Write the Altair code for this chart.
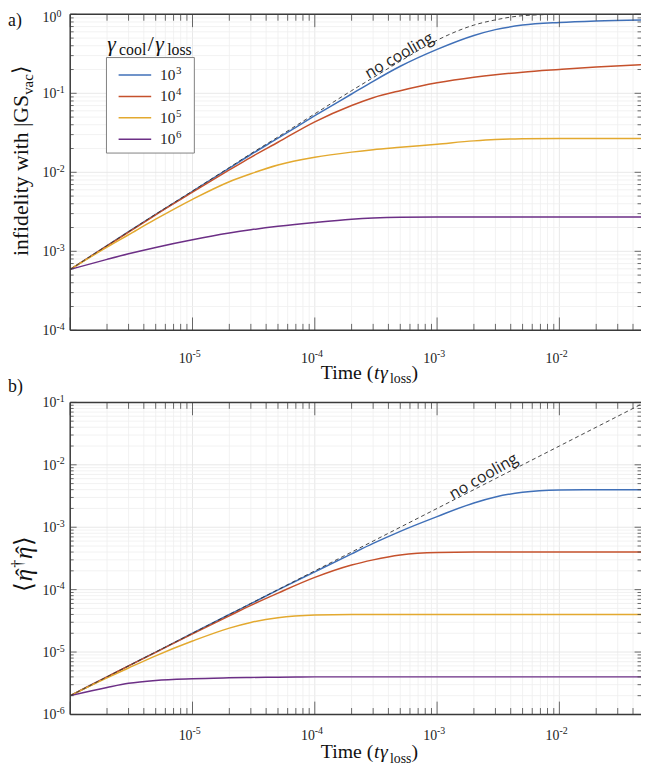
import altair as alt
import pandas as pd

# ---------------- data ----------------
times = [1e-6, 2e-6, 3e-6, 5e-6, 1e-5, 2e-5, 3e-5, 5e-5, 1e-4, 2e-4, 3e-4, 5e-4,
         1e-3, 2e-3, 3e-3, 5e-3, 1e-2, 2e-2, 5e-2]

series_labels = ["10³", "10⁴", "10⁵", "10⁶"]
legend_exp = ["3", "4", "5", "6"]
series_colors = ["#4070b8", "#c5512c", "#e3a92f", "#6c2f86"]

# panel a) infidelity with |GS_vac>
infid_nocool = [5.9e-4, 1.18e-3, 1.77e-3, 2.95e-3, 5.8e-3, 1.15e-2, 1.72e-2, 2.8e-2, 5.5e-2,
                0.108, 0.158, 0.255, 0.47, 0.73, 0.85, 0.96, 0.998, 1.0, 1.0]
infid_1e3 = [5.9e-4, 1.18e-3, 1.77e-3, 2.93e-3, 5.75e-3, 1.13e-2, 1.68e-2, 2.7e-2, 5.2e-2,
             0.098, 0.142, 0.22, 0.36, 0.54, 0.64, 0.73, 0.79, 0.825, 0.85]
infid_1e4 = [5.9e-4, 1.17e-3, 1.75e-3, 2.9e-3, 5.6e-3, 1.07e-2, 1.55e-2, 2.4e-2, 4.35e-2,
             0.070, 0.088, 0.108, 0.136, 0.16, 0.172, 0.185, 0.20, 0.215, 0.232]
infid_1e5 = [5.9e-4, 1.13e-3, 1.62e-3, 2.55e-3, 4.55e-3, 7.6e-3, 9.6e-3, 1.24e-2, 1.55e-2,
             1.8e-2, 1.93e-2, 2.07e-2, 2.27e-2, 2.5e-2, 2.6e-2, 2.66e-2, 2.68e-2, 2.68e-2, 2.68e-2]
infid_1e6 = [5.9e-4, 7.9e-4, 9.3e-4, 1.12e-3, 1.4e-3, 1.7e-3, 1.87e-3, 2.07e-3, 2.32e-3,
             2.55e-3, 2.64e-3, 2.7e-3, 2.72e-3, 2.72e-3, 2.72e-3, 2.72e-3, 2.72e-3, 2.72e-3, 2.72e-3]

# panel b) <eta^dagger eta>
n_nocool = [2e-6, 4e-6, 6e-6, 1e-5, 2e-5, 4e-5, 6e-5, 1e-4, 2e-4, 4e-4, 6e-4, 1e-3,
            2e-3, 4e-3, 6e-3, 1e-2, 2e-2, 4e-2, 1e-1]
n_1e3 = [2e-6, 4e-6, 6e-6, 1e-5, 2e-5, 4e-5, 5.95e-5, 9.9e-5, 1.93e-4, 3.75e-4, 5.5e-4, 8.6e-4,
         1.48e-3, 2.45e-3, 3.05e-3, 3.63e-3, 3.95e-3, 4.0e-3, 4.0e-3]
n_1e4 = [2e-6, 4e-6, 6e-6, 9.9e-6, 1.96e-5, 3.8e-5, 5.6e-5, 8.8e-5, 1.57e-4, 2.48e-4, 3.0e-4, 3.6e-4,
         3.95e-4, 4.0e-4, 4.0e-4, 4.0e-4, 4.0e-4, 4.0e-4, 4.0e-4]
n_1e5 = [2e-6, 3.85e-6, 5.55e-6, 8.7e-6, 1.5e-5, 2.42e-5, 2.98e-5, 3.55e-5, 3.92e-5, 4.0e-5, 4.0e-5, 4.0e-5,
         4.0e-5, 4.0e-5, 4.0e-5, 4.0e-5, 4.0e-5, 4.0e-5, 4.0e-5]
n_1e6 = [2e-6, 2.7e-6, 3.15e-6, 3.5e-6, 3.73e-6, 3.86e-6, 3.92e-6, 3.96e-6, 4.0e-6, 4.0e-6, 4.0e-6, 4.0e-6,
         4.0e-6, 4.0e-6, 4.0e-6, 4.0e-6, 4.0e-6, 4.0e-6, 4.0e-6]

# axis ticks / labels
x_label_vals = [1e-5, 1e-4, 1e-3, 1e-2]
x_label_exp = ["-5", "-4", "-3", "-2"]
ya_label_vals = [1, 1e-1, 1e-2, 1e-3, 1e-4]
ya_label_exp = ["0", "-1", "-2", "-3", "-4"]
yb_label_vals = [1e-1, 1e-2, 1e-3, 1e-4, 1e-5, 1e-6]
yb_label_exp = ["-1", "-2", "-3", "-4", "-5", "-6"]

# "no cooling" annotation anchors (data coordinates)
note_a = {"t": [4.9e-4], "v": [0.30]}
note_b = {"t": [2.4e-3], "v": [6.5e-3]}

# ---------------- layout ----------------
W = 578
XMAX = 0.0465
TOP0, TOP1 = 0, 320
BOT0, BOT1 = 393, 709
SERIF = "Liberation Serif"
FRAME = "#3a3a3a"
TICK = "#444444"

x_scale = alt.Scale(type="log", domain=[1e-6, XMAX], nice=False)
a_scale = alt.Scale(type="log", domain=[1e-4, 1], range=[TOP1, TOP0], nice=False)
b_scale = alt.Scale(type="log", domain=[1e-6, 1e-1], range=[BOT1, BOT0], nice=False)
color_scale = alt.Scale(domain=series_labels, range=series_colors)

ONE = pd.DataFrame({"_": [0]})


def X(field="t"):
    return alt.X(f"{field}:Q", scale=x_scale, axis=None)


def Ya(field="v"):
    return alt.Y(f"{field}:Q", scale=a_scale, axis=None)


def Yb(field="v"):
    return alt.Y(f"{field}:Q", scale=b_scale, axis=None)


def decades(lo, hi):
    majors, minors = [], []
    for e in range(lo, hi + 1):
        base = 10.0 ** e
        majors.append(base)
        for k in range(2, 10):
            minors.append(k * base)
    return majors, minors


layers = []

# ---- grid ----
xmaj, xmin = decades(-6, -2)
xmin = [v for v in xmin if v <= XMAX]
ya_maj, ya_min = decades(-4, 0)
ya_min = [v for v in ya_min if v < 1]
yb_maj, yb_min = decades(-6, -1)
yb_min = [v for v in yb_min if v < 0.1]

GMAJ, GMIN = "#e2e2e2", "#efefef"
for (y0, y1) in [(TOP0, TOP1), (BOT0, BOT1)]:
    for vals, col in [(xmin, GMIN), (xmaj, GMAJ)]:
        layers.append(alt.Chart(pd.DataFrame({"t": vals})).mark_rule(color=col, strokeWidth=0.8)
                      .encode(x=X(), y=alt.value(y0), y2=alt.value(y1)))
for Yf, mn, mj in [(Ya, ya_min, ya_maj), (Yb, yb_min, yb_maj)]:
    for vals, col in [(mn, GMIN), (mj, GMAJ)]:
        layers.append(alt.Chart(pd.DataFrame({"v": vals})).mark_rule(color=col, strokeWidth=0.8)
                      .encode(y=Yf(), x=alt.value(0), x2=alt.value(W)))

# ---- curves ----
def long(series_list):
    rows = []
    for lab, vals in zip(series_labels, series_list):
        for t, v in zip(times, vals):
            rows.append({"t": t, "v": v, "series": lab})
    return pd.DataFrame(rows)


df_a = long([infid_1e3, infid_1e4, infid_1e5, infid_1e6])
df_b = long([n_1e3, n_1e4, n_1e5, n_1e6])

for df, Yf in [(df_a, Ya), (df_b, Yb)]:
    layers.append(alt.Chart(df).mark_line(clip=True, strokeWidth=1.5, interpolate="monotone")
                  .encode(x=X(), y=Yf(),
                          color=alt.Color("series:N", scale=color_scale, legend=None),
                          detail="series:N"))

dash_a = pd.DataFrame({"t": times, "v": infid_nocool})
dash_b = pd.DataFrame({"t": times, "v": n_nocool})
for df, Yf in [(dash_a, Ya), (dash_b, Yb)]:
    layers.append(alt.Chart(df).mark_line(clip=True, color="#333", strokeWidth=0.9,
                                          strokeDash=[4, 3], interpolate="monotone")
                  .encode(x=X(), y=Yf()))

# ---- "no cooling" notes ----
for note, Yf in [(note_a, Ya), (note_b, Yb)]:
    layers.append(alt.Chart(pd.DataFrame(note)).mark_text(
        text="no cooling", font="Open Sans", fontSize=16, color="#222", angle=330,
        align="center", baseline="middle").encode(x=X(), y=Yf()))

# ---- ticks (inward, all four sides) ----
XT_MAJ, XT_MIN = 13, 6.5
YT_MAJ, YT_MIN = 6.5, 3.5
for (y0, y1) in [(TOP0, TOP1), (BOT0, BOT1)]:
    for vals, ln in [(xmin, XT_MIN), (xmaj, XT_MAJ)]:
        d = pd.DataFrame({"t": vals})
        layers.append(alt.Chart(d).mark_rule(color=TICK, strokeWidth=0.8)
                      .encode(x=X(), y=alt.value(y1), y2=alt.value(y1 - ln)))
        layers.append(alt.Chart(d).mark_rule(color=TICK, strokeWidth=0.8)
                      .encode(x=X(), y=alt.value(y0), y2=alt.value(y0 + ln)))
for Yf, mn, mj in [(Ya, ya_min, ya_maj), (Yb, yb_min, yb_maj)]:
    for vals, ln in [(mn, YT_MIN), (mj, YT_MAJ)]:
        d = pd.DataFrame({"v": vals})
        layers.append(alt.Chart(d).mark_rule(color=TICK, strokeWidth=0.8)
                      .encode(y=Yf(), x=alt.value(0), x2=alt.value(ln)))
        layers.append(alt.Chart(d).mark_rule(color=TICK, strokeWidth=0.8)
                      .encode(y=Yf(), x=alt.value(W - ln), x2=alt.value(W)))

# ---- frame ----
for (y0, y1) in [(TOP0, TOP1), (BOT0, BOT1)]:
    layers.append(alt.Chart(ONE).mark_rule(color=FRAME, strokeWidth=1.5)
                  .encode(x=alt.value(0), y=alt.value(y0), y2=alt.value(y1)))
    layers.append(alt.Chart(ONE).mark_rule(color=FRAME, strokeWidth=1.5)
                  .encode(x=alt.value(0), x2=alt.value(W), y=alt.value(y0)))
    layers.append(alt.Chart(ONE).mark_rule(color=FRAME, strokeWidth=1.5)
                  .encode(x=alt.value(0), x2=alt.value(W), y=alt.value(y1)))

# ---- tick labels: "10" + superscript exponent ----
LBL, SUP = 14, 10
for y_base in [TOP1 + 33.6, BOT1 + 26]:
    d = pd.DataFrame({"t": x_label_vals, "e": x_label_exp})
    layers.append(alt.Chart(d).mark_text(text="10", font=SERIF, fontSize=LBL, color="#222",
                                         align="right", baseline="alphabetic")
                  .encode(x=X(), y=alt.value(y_base)))
    layers.append(alt.Chart(d).mark_text(font=SERIF, fontSize=SUP, color="#222",
                                         align="left", baseline="alphabetic")
                  .encode(x=X(), y=alt.value(y_base - 6.5), text="e:N"))

for Yf, vals, exps in [(Ya, ya_label_vals, ya_label_exp), (Yb, yb_label_vals, yb_label_exp)]:
    d = pd.DataFrame({"v": vals, "e": exps})
    dys = [8 if v == 1 else 5 for v in vals]
    d["dy"] = dys
    for dy in sorted(set(dys)):
        dd = d[d["dy"] == dy]
        layers.append(alt.Chart(dd).mark_text(text="10", font=SERIF, fontSize=LBL, color="#222",
                                              align="left", baseline="alphabetic", dy=dy)
                      .encode(x=alt.value(-28), y=Yf()))
        layers.append(alt.Chart(dd).mark_text(font=SERIF, fontSize=SUP, color="#222",
                                              align="left", baseline="alphabetic", dy=dy - 5.5)
                      .encode(x=alt.value(-14), y=Yf(), text="e:N"))

# ---- legend (boxed, inside panel a) ----
leg_df = pd.DataFrame({"series": series_labels, "e": legend_exp})
leg_y = alt.Y("series:N", axis=None,
              scale=alt.Scale(type="point", domain=series_labels, range=[61.5, 126.5], padding=0))
layers.append(alt.Chart(ONE).mark_rect(fill="white", stroke="#808080", strokeWidth=1)
              .encode(x=alt.value(36.7), x2=alt.value(125.7), y=alt.value(43.8), y2=alt.value(140.5)))
layers.append(alt.Chart(leg_df).mark_rule(strokeWidth=1.5)
              .encode(x=alt.value(49), x2=alt.value(82), y=leg_y,
                      color=alt.Color("series:N", scale=color_scale, legend=None)))
layers.append(alt.Chart(leg_df).mark_text(text="10", font=SERIF, fontSize=15.5, color="#222",
                                          align="left", baseline="alphabetic", dy=5)
              .encode(x=alt.value(91), y=leg_y))
layers.append(alt.Chart(leg_df).mark_text(font=SERIF, fontSize=11, color="#222",
                                          align="left", baseline="alphabetic", dy=-1)
              .encode(x=alt.value(107), y=leg_y, text="e:N"))

# ---- rich text helper (titles with sub/superscripts) ----
WID = {" ": 0.25, "(": 0.333, ")": 0.333, "/": 0.278, "|": 0.2, "T": 0.611, "G": 0.722,
       "S": 0.556, "a": 0.444, "c": 0.444, "d": 0.5, "e": 0.444, "f": 0.333, "h": 0.5,
       "i": 0.278, "l": 0.278, "m": 0.778, "n": 0.5, "o": 0.5, "s": 0.389, "t": 0.278,
       "v": 0.5, "w": 0.722, "y": 0.5, "γ": 0.5, "⟩": 0.39, "⟨": 0.39, "η": 0.5,
       "†": 0.5, "ˆ": 0.333}


def text_w(s, size):
    return sum(WID.get(c, 0.5) for c in s) * size


def txt(s, x, y, size, italic=False, angle=0, align="left", baseline="alphabetic",
        font=SERIF, color="#111"):
    kw = dict(text=s, font=font, fontSize=size, align=align, baseline=baseline, color=color)
    if italic:
        kw["fontStyle"] = "italic"
    if angle:
        kw["angle"] = angle
    return alt.Chart(ONE).mark_text(**kw).encode(x=alt.value(x), y=alt.value(y))


def rich(pieces, x, y, angle=0, anchor="start"):
    """pieces: dicts with s, size, italic, shift (baseline shift, + = down),
    gap (extra advance), at (extra offset, no advance), adv (False = overlay)."""
    total = sum(text_w(p["s"], p["size"]) + p.get("gap", 0)
                for p in pieces if p.get("adv", True))
    pos = -total / 2 if anchor == "middle" else 0
    out = []
    for p in pieces:
        along = pos + p.get("at", 0)
        shift = p.get("shift", 0)
        if angle == 0:
            out.append(txt(p["s"], x + along, y + shift, p["size"], p.get("italic", False)))
        else:  # 270: reading upward
            out.append(txt(p["s"], x + shift, y - along, p["size"], p.get("italic", False), angle=270))
        if p.get("adv", True):
            pos += text_w(p["s"], p["size"]) + p.get("gap", 0)
    return out


# x axis titles: Time (t gamma_loss)
xt = [dict(s="Time (", size=20), dict(s="t", size=20, italic=True, gap=0.5),
      dict(s="γ", size=20, italic=True), dict(s="loss", size=14, shift=4.5),
      dict(s=")", size=20)]
layers += rich(xt, 303, TOP1 + 49, anchor="middle")
layers += rich(xt, 303, BOT1 + 44.5, anchor="middle")

# y title a): infidelity with |GS_vac>
yta = [dict(s="infidelity with |GS", size=22), dict(s="vac", size=15, shift=5),
       dict(s="⟩", size=22)]
layers += rich(yta, -43, 148.5, angle=270, anchor="middle")

# y title b): <eta-hat^dagger eta-hat>
ytb = [dict(s="⟨", size=25, gap=1),
       dict(s="ˆ", size=24, at=5, adv=False), dict(s="η", size=25, italic=True, gap=1),
       dict(s="†", size=16, shift=-9, gap=1),
       dict(s="ˆ", size=24, at=5, adv=False), dict(s="η", size=25, italic=True, gap=1),
       dict(s="⟩", size=25)]
layers += rich(ytb, -39, 556.5, angle=270, anchor="middle")

# legend title: gamma_cool / gamma_loss
lt = [dict(s="γ", size=22, italic=True, gap=1), dict(s="cool", size=16, shift=4, gap=1.5),
      dict(s="/", size=22, gap=1.5), dict(s="γ", size=22, italic=True, gap=1),
      dict(s="loss", size=16, shift=4)]
layers += rich(lt, 37.5, 37)

# panel labels
layers.append(txt("a)", -63, 11.5, 18))
layers.append(txt("b)", -63, 382, 18))

chart = (
    alt.layer(*layers)
    .resolve_scale(y="independent")
    .properties(width=W, height=BOT1, background="white",
                padding={"left": 63, "top": 1.5, "right": 0, "bottom": 62},
                autosize=alt.AutoSizeParams(type="none"))
    .configure_view(stroke=None)
)

chart.save("out.html", embed_options={"renderer": "svg", "actions": False})
